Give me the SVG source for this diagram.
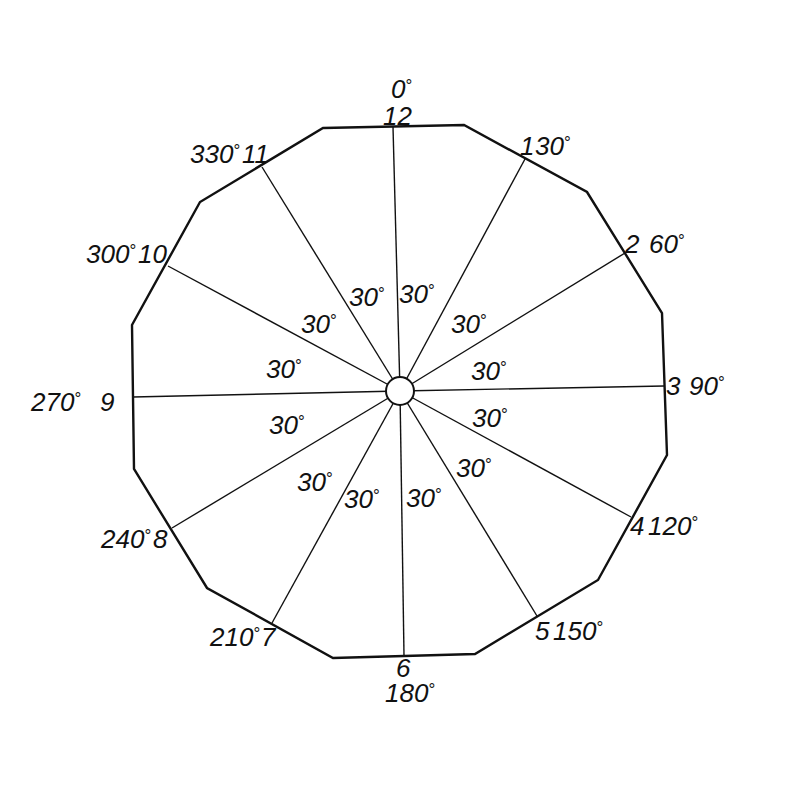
<svg xmlns="http://www.w3.org/2000/svg" width="800" height="800" viewBox="0 0 800 800">
<style>
.poly{fill:none;stroke:#111;stroke-width:2.4;stroke-linejoin:miter}
.spoke{stroke:#111;stroke-width:1.4}
.hub{fill:#fff;stroke:#111;stroke-width:2}
text{font-family:"Liberation Sans",Arial,sans-serif;font-style:italic;font-size:26px;fill:#111}
.d{font-size:17px;font-style:normal}
</style>
<rect width="800" height="800" fill="#fff"/>
<g id="connectors">
<line class="spoke" x1="400" y1="391" x2="393" y2="127"/>
<line class="spoke" x1="400" y1="391" x2="525" y2="159"/>
<line class="spoke" x1="400" y1="391" x2="625" y2="253"/>
<line class="spoke" x1="400" y1="391" x2="664" y2="386"/>
<line class="spoke" x1="400" y1="391" x2="631" y2="517"/>
<line class="spoke" x1="400" y1="391" x2="537" y2="616"/>
<line class="spoke" x1="400" y1="391" x2="404" y2="656"/>
<line class="spoke" x1="400" y1="391" x2="272" y2="623"/>
<line class="spoke" x1="400" y1="391" x2="172" y2="528"/>
<line class="spoke" x1="400" y1="391" x2="133" y2="397"/>
<line class="spoke" x1="400" y1="391" x2="168" y2="266"/>
<line class="spoke" x1="400" y1="391" x2="262" y2="167"/>
</g>
<g id="dodecagon">
<polygon class="poly" points="323,128 464,125 587,192 662,313 667,455 598,580 475,654 333,658 207,588 134,469 132,325 200,202"/>
</g>
<g id="hub">
<circle class="hub" cx="400" cy="391" r="14"/>
</g>
<g id="hour-labels">
<text x="391" y="98">0<tspan class="d" dy="-7">°</tspan></text>
<text x="383" y="125">12</text>
<text x="520" y="155">1</text>
<text x="535" y="155">30<tspan class="d" dy="-7">°</tspan></text>
<text x="625" y="253">2</text>
<text x="649" y="253">60<tspan class="d" dy="-7">°</tspan></text>
<text x="666" y="395">3</text>
<text x="689" y="395">90<tspan class="d" dy="-7">°</tspan></text>
<text x="630" y="535">4</text>
<text x="648" y="535">120<tspan class="d" dy="-7">°</tspan></text>
<text x="535" y="640">5</text>
<text x="553" y="640">150<tspan class="d" dy="-7">°</tspan></text>
<text x="396" y="677">6</text>
<text x="385" y="702">180<tspan class="d" dy="-7">°</tspan></text>
<text x="210" y="646">210<tspan class="d" dy="-7">°</tspan></text>
<text x="261" y="646">7</text>
<text x="101" y="548">240<tspan class="d" dy="-7">°</tspan></text>
<text x="153" y="548">8</text>
<text x="31" y="411">270<tspan class="d" dy="-7">°</tspan></text>
<text x="100" y="411">9</text>
<text x="86" y="263">300<tspan class="d" dy="-7">°</tspan></text>
<text x="138" y="263">10</text>
<text x="190" y="163">330<tspan class="d" dy="-7">°</tspan></text>
<text x="242" y="163">11</text>
</g>
<g id="angle-labels">
<text x="349" y="306">30<tspan class="d" dy="-7">°</tspan></text>
<text x="399" y="303">30<tspan class="d" dy="-7">°</tspan></text>
<text x="451" y="333">30<tspan class="d" dy="-7">°</tspan></text>
<text x="471" y="380">30<tspan class="d" dy="-7">°</tspan></text>
<text x="472" y="427">30<tspan class="d" dy="-7">°</tspan></text>
<text x="456" y="477">30<tspan class="d" dy="-7">°</tspan></text>
<text x="406" y="507">30<tspan class="d" dy="-7">°</tspan></text>
<text x="344" y="508">30<tspan class="d" dy="-7">°</tspan></text>
<text x="297" y="491">30<tspan class="d" dy="-7">°</tspan></text>
<text x="269" y="434">30<tspan class="d" dy="-7">°</tspan></text>
<text x="266" y="378">30<tspan class="d" dy="-7">°</tspan></text>
<text x="301" y="333">30<tspan class="d" dy="-7">°</tspan></text>
</g>
</svg>
